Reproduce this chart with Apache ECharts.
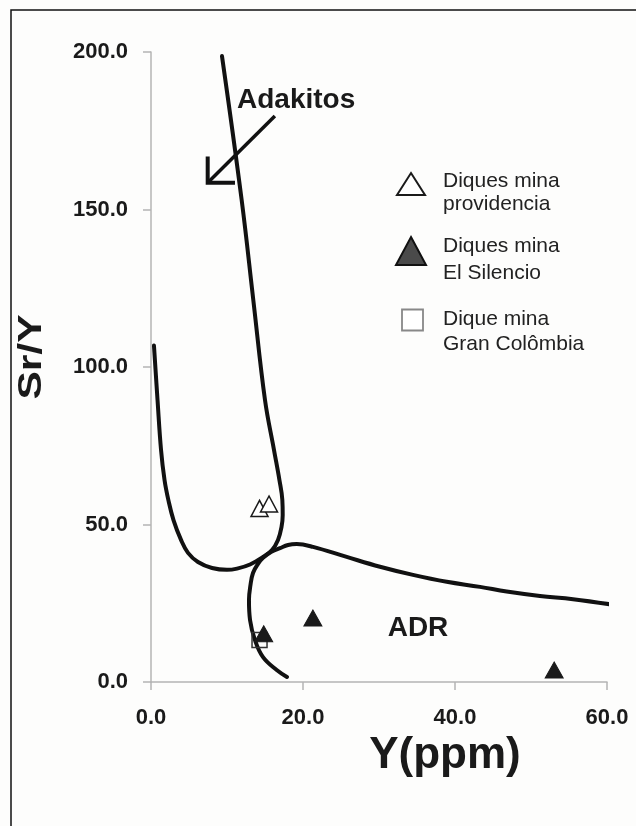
<!DOCTYPE html>
<html>
<head>
<meta charset="utf-8">
<script src="https://cdn.jsdelivr.net/npm/echarts@6/dist/echarts.min.js"></script>
<style>
  html, body { margin: 0; padding: 0; background: #fdfdfc; }
  #chart { width: 636px; height: 826px; }
</style>
</head>
<body>
<div id="chart"></div>
<script>
// Axis ticks
var xTicks = [0, 20, 40, 60];
var yTicks = [0, 50, 100, 150, 200];

// Adakite field boundary: steep line coming down, then the U-shaped lower bend (Y, Sr/Y)
var adakiteBoundary = [
  [9.34, 198.7], [11.93, 153.0], [13.46, 121.3], [15.0, 89.5], [16.18, 73.7],
  [16.9, 64.1], [17.28, 57.8], [17.33, 53.0], [17.17, 49.2], [16.71, 45.1],
  [15.92, 41.9], [14.74, 39.7], [13.03, 37.3], [11.32, 36.0], [10.0, 35.6],
  [8.03, 36.2], [6.18, 38.1], [4.87, 41.0], [3.95, 45.1], [2.96, 51.4],
  [2.28, 57.8], [1.78, 64.1], [1.32, 73.7], [0.86, 89.5], [0.39, 106.8]
];

// ADR (normal arc rocks) field boundary
var adrBoundary = [
  [17.89, 1.6], [16.54, 3.8], [14.74, 7.9], [13.68, 13.3], [13.03, 19.7],
  [12.89, 26.0], [13.09, 30.8], [13.42, 34.6], [14.08, 37.5], [14.74, 39.4],
  [15.79, 41.3], [16.97, 42.5], [18.03, 43.5], [19.17, 43.8], [21.32, 42.9],
  [25.75, 39.7], [30.13, 36.6], [34.47, 34.0], [38.91, 31.8], [43.29, 30.2],
  [46.8, 28.7], [51.18, 27.3], [55.53, 26.3], [61.14, 24.4]
];

// Arrow pointing into the adakite field
var arrowShaft = [[16.3, 179.7], [7.46, 158.5]];
var arrowHead = [[7.46, 166.8], [7.46, 158.5], [11.05, 158.5]];

// Samples
var diquesProvidencia = [[14.28, 55.1], [15.53, 56.5]];
var diquesSilencio = [[14.83, 15.3], [21.3, 20.3], [53.05, 3.8]];
var diqueGranColombia = [[14.28, 13.3]];

var seriesNames = ['Diques mina\nprovidencia', 'Diques mina\nEl Silencio', 'Dique mina\nGran Colômbia'];

var FONT = '"Liberation Sans", Arial, sans-serif';
var chart = echarts.init(document.getElementById('chart'), null, { renderer: 'canvas' });

function curve(name, data, width) {
  return {
    type: 'line', name: name, data: data, symbol: 'none', smooth: 0.4,
    clip: false, silent: true, z: 3,
    lineStyle: { color: '#111', width: width, cap: 'round', join: 'round' }
  };
}

var axisLineStyle = { color: '#b4b4b4', width: 1.5 };

chart.setOption({
  backgroundColor: '#fdfdfc',
  animation: false,
  grid: { left: 151, right: 29, top: 52, bottom: 144 },
  xAxis: {
    type: 'value', min: xTicks[0], max: xTicks[xTicks.length - 1], interval: 20,
    axisLine: { onZero: false, lineStyle: axisLineStyle },
    axisTick: { show: true, inside: false, length: 8, lineStyle: axisLineStyle },
    splitLine: { show: false },
    axisLabel: {
      margin: 25, fontFamily: FONT, fontWeight: 'bold', fontSize: 22, color: '#1a1a1a',
      formatter: function (v) { return v.toFixed(1); }
    }
  },
  yAxis: {
    type: 'value', min: yTicks[0], max: yTicks[yTicks.length - 1], interval: 50,
    axisLine: { show: true, onZero: false, lineStyle: axisLineStyle },
    axisTick: { show: true, inside: false, length: 8, lineStyle: axisLineStyle },
    splitLine: { show: false },
    axisLabel: {
      margin: 23, fontFamily: FONT, fontWeight: 'bold', fontSize: 22, color: '#1a1a1a',
      formatter: function (v) { return v.toFixed(1); }
    }
  },
  series: [
    curve('Adakitos', adakiteBoundary, 4),
    curve('ADR', adrBoundary, 4),
    {
      type: 'line', data: arrowShaft, symbol: 'none', clip: false, silent: true, z: 3,
      lineStyle: { color: '#111', width: 3.5 }
    },
    {
      type: 'line', data: arrowHead, symbol: 'none', clip: false, silent: true, z: 3,
      lineStyle: { color: '#111', width: 4, join: 'miter' }
    },
    {
      type: 'scatter', name: seriesNames[2], data: diqueGranColombia, symbol: 'rect',
      symbolSize: 15, z: 4,
      itemStyle: { color: 'rgba(255,255,255,0)', borderColor: '#333', borderWidth: 1.5, opacity: 1 }
    },
    {
      type: 'scatter', name: seriesNames[0], data: diquesProvidencia, symbol: 'triangle',
      symbolSize: [17, 16], z: 5,
      itemStyle: { color: '#fff', borderColor: '#1a1a1a', borderWidth: 1.5, opacity: 1 }
    },
    {
      type: 'scatter', name: seriesNames[1], data: diquesSilencio, symbol: 'triangle',
      symbolSize: [18, 16], z: 5,
      itemStyle: { color: '#1a1a1a', borderColor: '#1a1a1a', borderWidth: 1, opacity: 1 }
    }
  ],
  graphic: [
    // frame lines on top and left
    { type: 'polyline', shape: { points: [[11, 900], [11, 10], [700, 10]] },
      style: { stroke: '#111', lineWidth: 1.5, fill: null }, z: 10 },
    // axis titles
    { type: 'text', x: 32, y: 357, rotation: Math.PI / 2, scaleX: 1.25,
      style: { text: 'Sr/Y', font: 'bold 34px ' + FONT, fill: '#1a1a1a', align: 'center', verticalAlign: 'middle' } },
    { type: 'text', x: 445, y: 756,
      style: { text: 'Y(ppm)', font: 'bold 44px ' + FONT, fill: '#1a1a1a', align: 'center', verticalAlign: 'middle' } },
    // field names
    { type: 'text', x: 237, y: 100,
      style: { text: 'Adakitos', font: 'bold 28px ' + FONT, fill: '#1a1a1a', align: 'left', verticalAlign: 'middle' } },
    { type: 'text', x: 418, y: 628,
      style: { text: 'ADR', font: 'bold 28px ' + FONT, fill: '#1a1a1a', align: 'center', verticalAlign: 'middle' } },
    // legend
    { type: 'polygon', shape: { points: [[411, 173], [425, 195], [397, 195]] },
      style: { fill: '#fff', stroke: '#1a1a1a', lineWidth: 2 } },
    { type: 'text', x: 443, y: 181, style: { text: 'Diques mina', font: '21px ' + FONT, fill: '#222', verticalAlign: 'middle' } },
    { type: 'text', x: 443, y: 204, style: { text: 'providencia', font: '21px ' + FONT, fill: '#222', verticalAlign: 'middle' } },
    { type: 'polygon', shape: { points: [[411, 237], [426, 265], [396, 265]] },
      style: { fill: '#4a4a4a', stroke: '#111', lineWidth: 2 } },
    { type: 'text', x: 443, y: 246, style: { text: 'Diques mina', font: '21px ' + FONT, fill: '#222', verticalAlign: 'middle' } },
    { type: 'text', x: 443, y: 273, style: { text: 'El Silencio', font: '21px ' + FONT, fill: '#222', verticalAlign: 'middle' } },
    { type: 'rect', shape: { x: 402, y: 309.5, width: 21, height: 21 },
      style: { fill: '#fff', stroke: '#888', lineWidth: 1.8 } },
    { type: 'text', x: 443, y: 319, style: { text: 'Dique mina', font: '21px ' + FONT, fill: '#222', verticalAlign: 'middle' } },
    { type: 'text', x: 443, y: 344, style: { text: 'Gran Colômbia', font: '21px ' + FONT, fill: '#222', verticalAlign: 'middle' } }
  ]
});
</script>
</body>
</html>
